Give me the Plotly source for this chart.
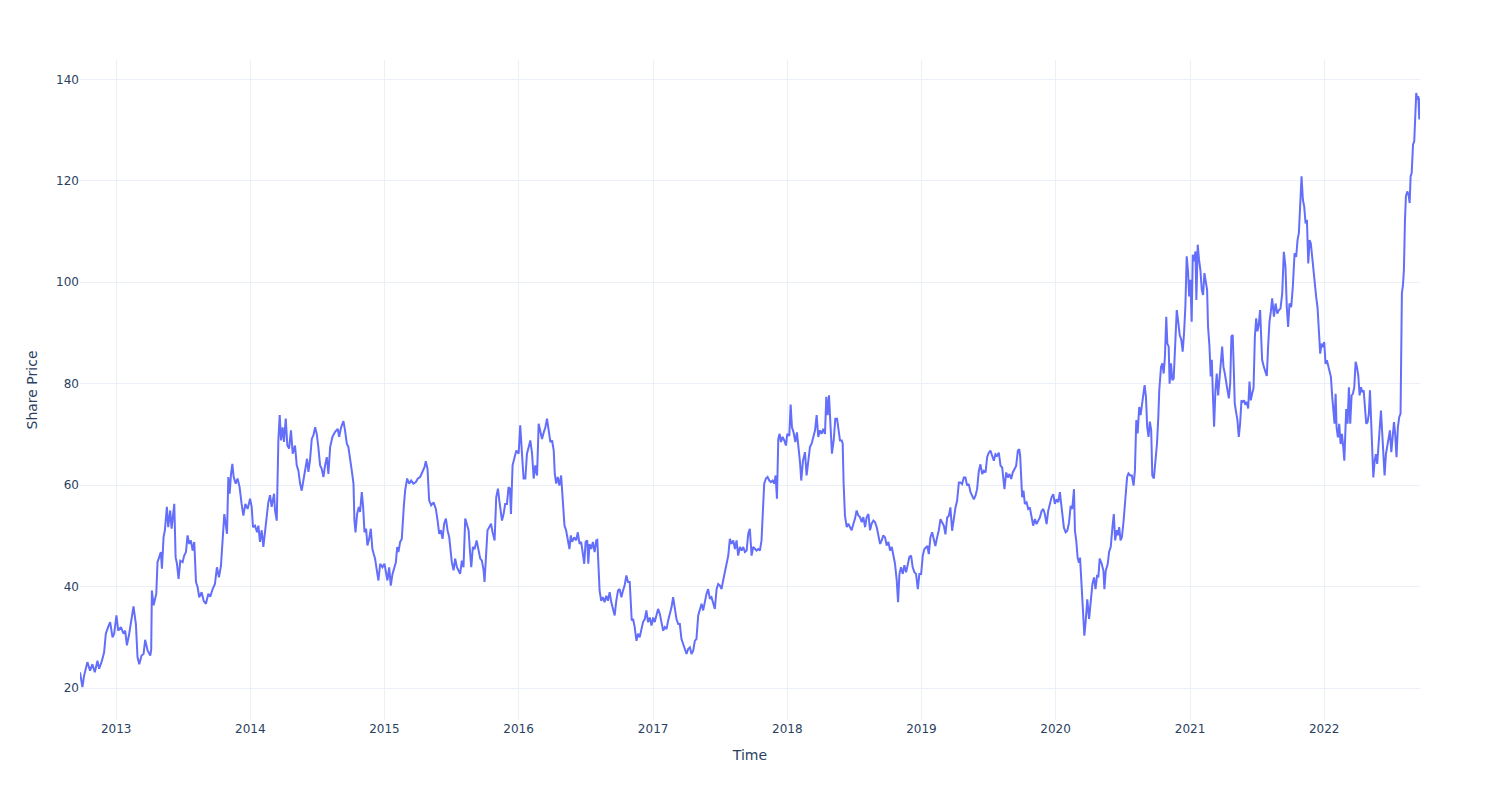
import pandas as pd
import plotly.graph_objects as go

# Time in decimal years and share price
years = [
    2012.731, 2012.749, 2012.761, 2012.786, 2012.806, 2012.823, 2012.841, 2012.861, 2012.873, 2012.891,
    2012.910, 2012.923, 2012.940, 2012.955, 2012.973, 2012.985, 2013.002, 2013.015, 2013.035, 2013.055,
    2013.067, 2013.080, 2013.097, 2013.114, 2013.129, 2013.147, 2013.159, 2013.172, 2013.189, 2013.204,
    2013.216, 2013.234, 2013.254, 2013.261, 2013.266, 2013.279, 2013.299, 2013.308, 2013.321, 2013.333,
    2013.341, 2013.353, 2013.363, 2013.378, 2013.388, 2013.403, 2013.413, 2013.433, 2013.443, 2013.453,
    2013.465, 2013.478, 2013.495, 2013.507, 2013.520, 2013.532, 2013.545, 2013.557, 2013.570, 2013.582,
    2013.595, 2013.607, 2013.619, 2013.637, 2013.652, 2013.669, 2013.687, 2013.701, 2013.719, 2013.736,
    2013.751, 2013.766, 2013.781, 2013.794, 2013.806, 2013.816, 2013.826, 2013.836, 2013.846, 2013.856,
    2013.866, 2013.876, 2013.891, 2013.905, 2013.920, 2013.935, 2013.948, 2013.963, 2013.980, 2013.998,
    2014.010, 2014.020, 2014.035, 2014.050, 2014.060, 2014.072, 2014.085, 2014.097, 2014.109, 2014.122,
    2014.134, 2014.147, 2014.159, 2014.177, 2014.184, 2014.197, 2014.209, 2014.219, 2014.229, 2014.241,
    2014.251, 2014.264, 2014.276, 2014.289, 2014.303, 2014.316, 2014.333, 2014.346, 2014.358, 2014.371,
    2014.383, 2014.398, 2014.408, 2014.423, 2014.433, 2014.445, 2014.458, 2014.470, 2014.483, 2014.495,
    2014.507, 2014.520, 2014.532, 2014.545, 2014.557, 2014.570, 2014.582, 2014.595, 2014.612, 2014.632,
    2014.652, 2014.662, 2014.677, 2014.694, 2014.706, 2014.719, 2014.731, 2014.744, 2014.756, 2014.769,
    2014.776, 2014.784, 2014.796, 2014.809, 2014.818, 2014.831, 2014.841, 2014.851, 2014.863, 2014.873,
    2014.886, 2014.898, 2014.910, 2014.920, 2014.930, 2014.943, 2014.955, 2014.968, 2014.985, 2015.000,
    2015.010, 2015.022, 2015.035, 2015.047, 2015.060, 2015.072, 2015.085, 2015.095, 2015.104, 2015.117,
    2015.129, 2015.144, 2015.154, 2015.169, 2015.184, 2015.199, 2015.216, 2015.234, 2015.249, 2015.266,
    2015.284, 2015.299, 2015.308, 2015.321, 2015.333, 2015.348, 2015.366, 2015.383, 2015.396, 2015.408,
    2015.420, 2015.433, 2015.445, 2015.458, 2015.470, 2015.483, 2015.493, 2015.502, 2015.515, 2015.527,
    2015.540, 2015.552, 2015.564, 2015.577, 2015.589, 2015.602, 2015.614, 2015.627, 2015.637, 2015.647,
    2015.659, 2015.672, 2015.687, 2015.701, 2015.714, 2015.726, 2015.739, 2015.746, 2015.756, 2015.768,
    2015.781, 2015.794, 2015.806, 2015.821, 2015.833, 2015.846, 2015.856, 2015.866, 2015.876, 2015.888,
    2015.900, 2015.913, 2015.925, 2015.935, 2015.943, 2015.955, 2015.970, 2015.983, 2016.000, 2016.012,
    2016.025, 2016.037, 2016.050, 2016.062, 2016.075, 2016.087, 2016.100, 2016.112, 2016.124, 2016.137,
    2016.149, 2016.162, 2016.174, 2016.187, 2016.199, 2016.211, 2016.224, 2016.236, 2016.249, 2016.261,
    2016.269, 2016.279, 2016.291, 2016.303, 2016.316, 2016.328, 2016.341, 2016.353, 2016.366, 2016.378,
    2016.388, 2016.398, 2016.413, 2016.428, 2016.440, 2016.453, 2016.465, 2016.478, 2016.488, 2016.498,
    2016.510, 2016.518, 2016.527, 2016.540, 2016.552, 2016.565, 2016.577, 2016.585, 2016.592, 2016.602,
    2016.614, 2016.627, 2016.639, 2016.652, 2016.664, 2016.677, 2016.689, 2016.701, 2016.714, 2016.726,
    2016.739, 2016.751, 2016.764, 2016.776, 2016.788, 2016.801, 2016.813, 2016.826, 2016.833, 2016.841,
    2016.851, 2016.863, 2016.876, 2016.888, 2016.900, 2016.913, 2016.925, 2016.938, 2016.950, 2016.962,
    2016.975, 2016.988, 2017.000, 2017.012, 2017.025, 2017.037, 2017.050, 2017.062, 2017.075, 2017.087,
    2017.100, 2017.112, 2017.124, 2017.137, 2017.149, 2017.162, 2017.174, 2017.187, 2017.199, 2017.211,
    2017.224, 2017.236, 2017.249, 2017.261, 2017.274, 2017.286, 2017.299, 2017.311, 2017.323, 2017.336,
    2017.348, 2017.361, 2017.373, 2017.386, 2017.398, 2017.410, 2017.423, 2017.435, 2017.448, 2017.460,
    2017.473, 2017.485, 2017.498, 2017.510, 2017.522, 2017.535, 2017.547, 2017.560, 2017.572, 2017.585,
    2017.597, 2017.610, 2017.622, 2017.634, 2017.647, 2017.659, 2017.672, 2017.684, 2017.697, 2017.709,
    2017.721, 2017.734, 2017.746, 2017.759, 2017.771, 2017.784, 2017.796, 2017.808, 2017.818, 2017.828,
    2017.841, 2017.853, 2017.866, 2017.878, 2017.891, 2017.903, 2017.913, 2017.923, 2017.933, 2017.943,
    2017.953, 2017.965, 2017.978, 2017.990, 2018.000, 2018.015, 2018.025, 2018.035, 2018.047, 2018.060,
    2018.072, 2018.085, 2018.095, 2018.104, 2018.117, 2018.132, 2018.144, 2018.157, 2018.169, 2018.182,
    2018.194, 2018.207, 2018.219, 2018.231, 2018.244, 2018.256, 2018.269, 2018.281, 2018.291, 2018.301,
    2018.311, 2018.321, 2018.333, 2018.346, 2018.358, 2018.371, 2018.381, 2018.393, 2018.406, 2018.413,
    2018.420, 2018.430, 2018.443, 2018.455, 2018.468, 2018.480, 2018.493, 2018.505, 2018.517, 2018.530,
    2018.542, 2018.555, 2018.567, 2018.580, 2018.592, 2018.605, 2018.617, 2018.629, 2018.642, 2018.654,
    2018.667, 2018.679, 2018.692, 2018.704, 2018.716, 2018.729, 2018.741, 2018.754, 2018.766, 2018.779,
    2018.791, 2018.803, 2018.816, 2018.826, 2018.836, 2018.848, 2018.861, 2018.873, 2018.886, 2018.898,
    2018.910, 2018.923, 2018.935, 2018.948, 2018.960, 2018.973, 2018.985, 2018.998, 2019.010, 2019.022,
    2019.035, 2019.045, 2019.055, 2019.067, 2019.080, 2019.092, 2019.104, 2019.117, 2019.129, 2019.142,
    2019.154, 2019.167, 2019.179, 2019.192, 2019.204, 2019.216, 2019.229, 2019.241, 2019.254, 2019.266,
    2019.279, 2019.291, 2019.303, 2019.316, 2019.328, 2019.341, 2019.353, 2019.366, 2019.378, 2019.391,
    2019.403, 2019.415, 2019.428, 2019.440, 2019.453, 2019.465, 2019.478, 2019.490, 2019.502, 2019.515,
    2019.527, 2019.540, 2019.552, 2019.565, 2019.577, 2019.590, 2019.602, 2019.612, 2019.619, 2019.632,
    2019.644, 2019.656, 2019.669, 2019.681, 2019.694, 2019.706, 2019.719, 2019.729, 2019.736, 2019.744,
    2019.751, 2019.761, 2019.771, 2019.784, 2019.796, 2019.808, 2019.821, 2019.833, 2019.846, 2019.858,
    2019.871, 2019.883, 2019.896, 2019.908, 2019.920, 2019.933, 2019.945, 2019.958, 2019.970, 2019.983,
    2019.995, 2020.007, 2020.020, 2020.032, 2020.042, 2020.050, 2020.062, 2020.075, 2020.087, 2020.100,
    2020.112, 2020.124, 2020.137, 2020.144, 2020.154, 2020.164, 2020.174, 2020.182, 2020.189, 2020.199,
    2020.206, 2020.214, 2020.224, 2020.236, 2020.249, 2020.261, 2020.274, 2020.286, 2020.297, 2020.309,
    2020.318, 2020.328, 2020.343, 2020.356, 2020.363, 2020.373, 2020.388, 2020.398, 2020.410, 2020.423,
    2020.433, 2020.443, 2020.455, 2020.463, 2020.473, 2020.483, 2020.493, 2020.505, 2020.517, 2020.525,
    2020.532, 2020.542, 2020.555, 2020.567, 2020.580, 2020.590, 2020.600, 2020.610, 2020.622, 2020.632,
    2020.642, 2020.652, 2020.662, 2020.672, 2020.681, 2020.691, 2020.701, 2020.711, 2020.719, 2020.731,
    2020.744, 2020.754, 2020.764, 2020.771, 2020.784, 2020.794, 2020.804, 2020.813, 2020.823, 2020.831,
    2020.841, 2020.848, 2020.858, 2020.868, 2020.878, 2020.891, 2020.901, 2020.910, 2020.923, 2020.935,
    2020.945, 2020.955, 2020.965, 2020.975, 2020.985, 2020.993, 2021.002, 2021.012, 2021.020, 2021.030,
    2021.040, 2021.047, 2021.057, 2021.067, 2021.077, 2021.087, 2021.097, 2021.107, 2021.117, 2021.127,
    2021.134, 2021.144, 2021.154, 2021.162, 2021.169, 2021.179, 2021.189, 2021.199, 2021.209, 2021.219,
    2021.229, 2021.239, 2021.249, 2021.259, 2021.269, 2021.279, 2021.289, 2021.299, 2021.308, 2021.318,
    2021.326, 2021.333, 2021.343, 2021.353, 2021.363, 2021.373, 2021.383, 2021.393, 2021.403, 2021.413,
    2021.423, 2021.433, 2021.443, 2021.453, 2021.463, 2021.473, 2021.483, 2021.493, 2021.502, 2021.512,
    2021.522, 2021.530, 2021.537, 2021.550, 2021.562, 2021.572, 2021.582, 2021.592, 2021.602, 2021.612,
    2021.625, 2021.637, 2021.650, 2021.662, 2021.674, 2021.687, 2021.699, 2021.711, 2021.721, 2021.731,
    2021.741, 2021.754, 2021.766, 2021.779, 2021.791, 2021.801, 2021.811, 2021.821, 2021.831, 2021.841,
    2021.851, 2021.861, 2021.871, 2021.881, 2021.891, 2021.900, 2021.910, 2021.920, 2021.930, 2021.940,
    2021.950, 2021.960, 2021.970, 2021.980, 2021.990, 2022.000, 2022.010, 2022.020, 2022.030, 2022.040,
    2022.050, 2022.060, 2022.070, 2022.077, 2022.085, 2022.092, 2022.102, 2022.112, 2022.122, 2022.132,
    2022.142, 2022.150, 2022.157, 2022.164, 2022.174, 2022.184, 2022.194, 2022.204, 2022.214, 2022.224,
    2022.234, 2022.244, 2022.254, 2022.264, 2022.274, 2022.284, 2022.294, 2022.303, 2022.313, 2022.323,
    2022.333, 2022.341, 2022.348, 2022.358, 2022.366, 2022.376, 2022.385, 2022.395, 2022.405, 2022.415,
    2022.423, 2022.430, 2022.440, 2022.450, 2022.460, 2022.470, 2022.480, 2022.490, 2022.500, 2022.510,
    2022.520, 2022.529, 2022.539, 2022.549, 2022.559, 2022.569, 2022.574, 2022.579, 2022.587, 2022.594,
    2022.602, 2022.609, 2022.619, 2022.629, 2022.637, 2022.644, 2022.652, 2022.662, 2022.671, 2022.679,
    2022.686, 2022.694, 2022.701, 2022.709, 2022.714,
]

price = [
    23.1, 20.2, 22.4, 25.1, 23.4, 24.7, 23.1, 25.4, 23.8, 25.1,
    27.0, 30.7, 32.0, 33.0, 30.0, 30.7, 34.3, 31.3, 32.0, 30.7,
    31.3, 28.4, 30.7, 33.6, 36.1, 32.6, 26.1, 24.7, 26.4, 26.7,
    29.5, 27.4, 26.4, 27.5, 39.2, 36.3, 38.6, 44.8, 45.8, 46.8,
    43.5, 49.7, 51.1, 55.7, 51.7, 55.0, 51.4, 56.3, 45.8, 44.5,
    41.5, 45.1, 44.8, 46.1, 46.8, 50.1, 48.4, 49.1, 47.1, 48.8,
    40.9, 39.9, 37.9, 38.9, 37.2, 36.6, 38.6, 38.0, 39.5, 40.5,
    43.8, 41.8, 44.1, 50.4, 54.3, 52.4, 50.4, 61.6, 58.3, 62.2,
    64.2, 61.6, 60.3, 61.3, 59.6, 56.3, 54.0, 56.3, 55.3, 57.3,
    55.7, 51.7, 52.0, 50.7, 52.0, 48.8, 51.1, 47.8, 51.1, 53.4,
    56.6, 58.0, 55.7, 58.3, 55.0, 53.0, 68.8, 73.8, 68.8, 71.4,
    68.5, 73.1, 67.8, 67.2, 70.8, 66.2, 67.8, 63.9, 62.9, 60.3,
    58.9, 61.3, 62.6, 65.2, 62.6, 64.9, 69.1, 69.8, 71.4, 70.1,
    67.5, 63.9, 63.2, 61.6, 63.9, 65.5, 62.2, 67.5, 69.5, 70.5,
    71.1, 69.5, 71.4, 72.6, 70.8, 68.2, 67.5, 65.5, 62.9, 60.3,
    53.0, 50.7, 54.3, 55.7, 54.7, 58.6, 55.7, 50.7, 51.4, 48.1,
    49.4, 51.4, 47.4, 46.4, 45.5, 43.2, 41.2, 44.5, 43.8, 44.5,
    43.2, 41.2, 43.8, 40.2, 42.5, 43.8, 44.8, 47.8, 46.8, 48.8,
    49.4, 55.7, 58.9, 61.3, 60.3, 60.9, 60.3, 60.6, 61.3, 61.6,
    62.6, 63.6, 64.7, 63.2, 57.0, 56.0, 56.6, 55.3, 53.0, 50.4,
    51.1, 49.4, 52.4, 53.4, 51.1, 49.7, 47.1, 44.8, 43.2, 45.5,
    43.8, 43.2, 42.5, 45.1, 43.8, 53.4, 52.0, 51.1, 47.1, 43.8,
    47.8, 47.4, 49.1, 47.1, 45.5, 45.1, 43.2, 40.9, 45.8, 51.1,
    51.7, 52.4, 50.7, 49.1, 57.6, 59.3, 57.0, 55.0, 53.0, 54.3,
    56.3, 56.3, 59.6, 59.3, 54.3, 63.9, 65.5, 66.8, 66.2, 71.8,
    66.2, 61.3, 61.3, 66.2, 67.5, 68.8, 66.2, 61.3, 63.9, 61.9,
    72.1, 70.8, 69.1, 70.4, 71.4, 73.1, 71.1, 68.5, 68.8, 66.8,
    62.2, 60.3, 61.6, 59.9, 61.9, 56.3, 52.0, 51.1, 48.8, 47.4,
    50.1, 48.8, 49.7, 49.1, 50.7, 48.4, 48.8, 46.4, 44.5, 48.8,
    49.1, 44.5, 48.4, 47.4, 48.8, 46.8, 49.1, 49.2, 43.8, 39.2,
    37.2, 37.9, 36.9, 38.2, 37.2, 38.9, 36.9, 35.3, 34.3, 37.2,
    39.2, 39.5, 37.9, 39.2, 40.2, 42.2, 40.9, 40.9, 35.9, 33.3,
    33.6, 32.0, 29.3, 30.7, 30.0, 31.3, 33.0, 33.6, 35.3, 33.0,
    33.9, 32.3, 33.9, 33.0, 34.6, 35.6, 34.6, 33.3, 31.3, 32.0,
    31.6, 33.3, 34.6, 35.9, 37.9, 35.3, 33.6, 32.6, 32.6, 29.7,
    28.7, 28.0, 26.7, 27.7, 28.0, 26.7, 27.4, 29.3, 29.7, 34.3,
    35.3, 36.6, 35.3, 37.2, 38.6, 39.5, 37.6, 37.9, 36.6, 35.6,
    39.5, 40.5, 40.2, 39.5, 41.2, 42.8, 44.8, 46.1, 49.4, 48.4,
    49.1, 47.4, 49.1, 46.1, 47.8, 47.1, 47.8, 46.8, 47.1, 50.4,
    51.4, 46.1, 47.8, 47.4, 47.1, 47.4, 47.1, 49.1, 55.0, 60.3,
    61.3, 61.6, 60.9, 60.6, 60.9, 60.3, 61.9, 57.3, 69.1, 70.1,
    68.5, 69.5, 68.8, 67.8, 70.1, 69.7, 75.9, 71.4, 70.4, 68.5,
    70.4, 67.5, 64.5, 60.9, 64.8, 66.5, 61.9, 64.8, 67.5, 68.2,
    69.8, 70.8, 73.8, 69.5, 70.8, 70.1, 71.1, 70.1, 77.4, 73.8,
    77.7, 71.4, 66.2, 68.8, 73.1, 73.1, 71.1, 68.8, 68.8, 68.2,
    60.3, 54.0, 51.7, 52.4, 51.7, 51.1, 52.4, 53.4, 55.0, 54.0,
    53.7, 52.7, 53.7, 51.7, 53.7, 54.3, 51.1, 52.4, 53.0, 52.7,
    51.7, 49.7, 48.4, 49.1, 50.1, 49.7, 48.1, 48.8, 47.1, 47.8,
    46.4, 44.5, 41.2, 36.9, 42.5, 43.8, 42.5, 44.2, 42.8, 44.5,
    45.8, 46.1, 43.8, 42.8, 42.5, 39.5, 42.5, 42.5, 46.1, 47.4,
    47.7, 48.0, 46.4, 49.7, 50.7, 49.0, 48.0, 49.7, 51.0, 53.3,
    52.6, 52.0, 50.3, 53.6, 53.9, 55.6, 51.0, 53.6, 55.6, 56.9,
    60.5, 60.5, 60.2, 61.5, 61.5, 59.9, 60.2, 58.6, 57.9, 57.2,
    57.9, 59.2, 62.8, 64.1, 62.2, 62.8, 62.5, 65.5, 66.4, 66.8,
    65.8, 64.8, 66.1, 65.8, 66.4, 63.8, 63.5, 61.5, 59.2, 62.5,
    61.5, 62.2, 61.2, 62.5, 63.2, 63.8, 66.8, 67.1, 65.8, 61.5,
    57.6, 58.9, 56.3, 56.6, 55.3, 55.6, 53.6, 52.0, 53.3, 52.3,
    53.0, 53.6, 54.9, 55.3, 54.3, 52.3, 54.9, 56.3, 57.6, 58.2,
    56.3, 57.2, 56.6, 58.6, 56.3, 53.9, 51.6, 50.7, 51.0, 52.6,
    55.9, 55.3, 59.2, 51.0, 49.0, 45.7, 44.7, 45.7, 41.8, 37.2,
    33.2, 30.3, 33.2, 37.5, 33.6, 36.5, 40.5, 41.8, 39.5, 42.3,
    41.8, 45.5, 44.5, 43.1, 39.5, 43.1, 44.5, 46.8, 47.8, 51.7,
    54.3, 49.1, 51.1, 50.1, 51.7, 49.1, 49.7, 52.7, 57.0, 58.3,
    61.6, 62.3, 61.9, 61.9, 59.9, 62.9, 72.8, 70.2, 75.4, 73.8,
    76.1, 78.1, 79.7, 77.4, 71.5, 69.5, 72.5, 70.8, 61.9, 61.3,
    65.5, 68.2, 73.5, 78.7, 83.3, 84.0, 82.0, 85.3, 93.2, 87.9,
    87.3, 80.0, 84.0, 80.7, 81.0, 89.3, 94.5, 92.6, 89.6, 88.6,
    86.3, 89.9, 95.2, 105.1, 102.1, 97.2, 100.5, 92.2, 105.4, 104.1,
    106.1, 96.5, 107.4, 104.4, 102.4, 98.5, 97.5, 101.8, 100.5, 98.5,
    91.2, 87.6, 81.4, 84.7, 78.7, 71.5, 78.7, 82.0, 77.7, 82.0,
    84.0, 87.3, 83.3, 82.0, 80.7, 78.7, 77.1, 80.0, 89.3, 89.6,
    82.7, 76.1, 74.4, 72.8, 69.5, 72.1, 76.7, 76.4, 76.7, 75.8,
    76.4, 75.1, 80.4, 76.7, 78.1, 79.1, 89.3, 92.9, 90.3, 91.6,
    94.5, 89.9, 84.7, 83.3, 82.0, 81.5, 87.5, 92.2, 94.2, 96.8,
    93.2, 95.8, 93.8, 94.5, 94.8, 97.8, 106.0, 103.1, 95.1, 91.2,
    95.8, 95.1, 99.1, 105.7, 105.0, 108.3, 109.7, 115.6, 120.9, 116.2,
    114.9, 111.6, 112.3, 103.7, 108.3, 107.7, 105.0, 101.1, 98.4, 97.1,
    95.1, 91.2, 85.9, 87.9, 87.2, 88.2, 83.9, 84.6, 83.3, 82.3,
    81.3, 77.3, 74.7, 72.1, 78.0, 71.4, 69.4, 72.1, 68.1, 70.1,
    67.5, 64.8, 70.1, 75.0, 72.1, 79.3, 72.1, 77.7, 78.0, 79.3,
    84.3, 83.3, 81.6, 77.7, 79.3, 78.3, 78.7, 74.7, 72.1, 72.4,
    74.1, 78.7, 72.7, 67.5, 61.5, 64.8, 66.1, 64.2, 68.1, 72.1,
    74.7, 71.4, 66.8, 61.9, 66.1, 67.5, 68.8, 70.8, 66.5, 68.8,
    72.4, 70.1, 65.5, 71.4, 73.4, 74.1, 89.9, 97.8, 99.4, 102.4,
    112.3, 116.9, 117.9, 117.2, 115.6, 120.9, 121.5, 127.1, 127.8, 133.4,
    137.3, 136.0, 136.7, 132.1, 136.3,
]


def to_date(y):
    yr = int(y)
    start = pd.Timestamp(year=yr, month=1, day=1)
    end = pd.Timestamp(year=yr + 1, month=1, day=1)
    return start + (end - start) * (y - yr)


dates = [to_date(y) for y in years]

fig = go.Figure()
fig.add_trace(go.Scatter(
    x=dates, y=price, mode="lines",
    line=dict(color="#636efa", width=2),
    name="Share Price",
))

fig.update_layout(
    template="plotly_white",
    width=1500, height=800,
    font=dict(family="DejaVu Sans"),
    margin=dict(l=80, r=80, t=60, b=80),
    xaxis=dict(title=dict(text="Time")),
    yaxis=dict(title=dict(text="Share Price")),
    showlegend=False,
)

fig.write_html("out.html")
